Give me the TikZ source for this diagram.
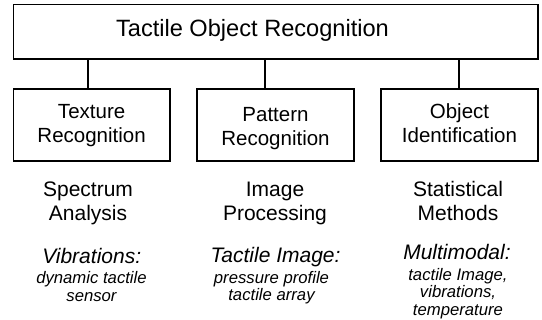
\documentclass[tikz,border=0pt]{standalone}
\usepackage{fontspec}
\setmainfont{Liberation Sans}
\newcommand{\lnstrut}{\rule[-0.22em]{0pt}{0.97em}}
\newcommand{\tallstrut}{\rule[-0.22em]{0pt}{1.27em}}
\begin{document}
\begin{tikzpicture}[x=1pt,y=-1pt,
  box/.style={draw=black,line width=1.4pt,rectangle,inner sep=0pt,align=center},
  conn/.style={draw=black,line width=1.4pt},
  title/.style={inner sep=0pt,anchor=base,font=\fontsize{23.6}{28}\selectfont},
  boxtext/.style={font=\fontsize{20.5}{24.5}\selectfont},
  method/.style={inner sep=0pt,align=center,anchor=north,font=\fontsize{21}{23.3}\selectfont},
  head/.style={inner sep=0pt,anchor=base,font=\fontsize{21}{24}\itshape\selectfont},
  detail/.style={inner sep=0pt,align=center,anchor=north,font=\fontsize{16.7}{17.7}\itshape\selectfont}]
\useasboundingbox (0,0) rectangle (542,320);
\node[box,minimum width=524.7pt,minimum height=54.7pt] (top) at (275.6,31.7) {};
\node[title] (toptext) at (252.5,36.8) {Tactile Object Recognition};
\node[box,boxtext,minimum width=156.7pt,minimum height=72pt] (b1) at (91.6,125) {\lnstrut Texture\\\lnstrut Recognition};
\node[box,boxtext,minimum width=156.7pt,minimum height=72pt] (b2) at (275.5,125) {\tallstrut Pattern\\\lnstrut Recognition};
\node[box,boxtext,minimum width=156.7pt,minimum height=72pt] (b3) at (459.5,125) {\lnstrut Object\\\lnstrut Identification};
\draw[conn] (top.south -| 88,0) -- (b1.north -| 88,0);
\draw[conn] (top.south -| 265,0) -- (b2.north -| 265,0);
\draw[conn] (top.south -| 459,0) -- (b3.north -| 459,0);
\node[method] (m1) at (88,181) {\lnstrut Spectrum\\\lnstrut Analysis};
\node[method] (m2) at (275,181) {\lnstrut Image\\\lnstrut Processing};
\node[method] (m3) at (458,181) {\lnstrut Statistical\\\lnstrut Methods};
\node[head] (h1) at (91.7,264) {Vibrations:};
\node[detail] (d1) at (91.5,270.8) {\lnstrut dynamic tactile\\\lnstrut sensor};
\node[head] (h2) at (275.5,263) {Tactile Image:};
\node[detail] (d2) at (271.5,270.5) {\lnstrut pressure profile\\\lnstrut tactile array};
\node[head] (h3) at (457,260) {Multimodal:};
\node[detail] (d3) at (458,267.5) {\lnstrut tactile Image,\\\lnstrut vibrations,\\\lnstrut temperature};
\end{tikzpicture}
\end{document}
